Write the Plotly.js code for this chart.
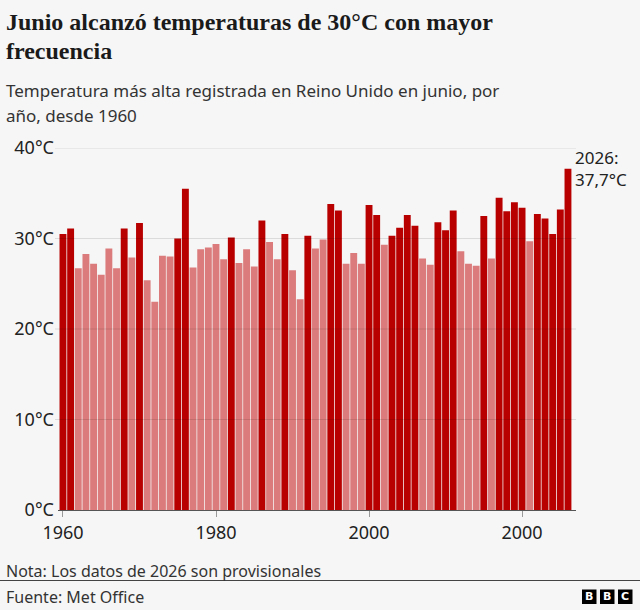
<!DOCTYPE html>
<html>
<head>
<meta charset="utf-8">
<script src="https://cdn.plot.ly/plotly-3.0.1.min.js"></script>
<style>
  html, body { margin: 0; padding: 0; background: #f6f6f6; }
  #chart { width: 640px; height: 610px; }
</style>
</head>
<body>
<div id="chart"></div>
<script>
// ---- Data ----
const years = [
  1960, 1961, 1962, 1963, 1964, 1965, 1966, 1967, 1968, 1969,
  1970, 1971, 1972, 1973, 1974, 1975, 1976, 1977, 1978, 1979,
  1980, 1981, 1982, 1983, 1984, 1985, 1986, 1987, 1988, 1989,
  1990, 1991, 1992, 1993, 1994, 1995, 1996, 1997, 1998, 1999,
  2000, 2001, 2002, 2003, 2004, 2005, 2006, 2007, 2008, 2009,
  2010, 2011, 2012, 2013, 2014, 2015, 2016, 2017, 2018, 2019,
  2020, 2021, 2022, 2023, 2024, 2025, 2026
];
const maxTemp = [
  30.5, 31.1, 26.7, 28.3, 27.2, 26.0, 28.9, 26.7, 31.1, 27.9,
  31.7, 25.4, 23.0, 28.1, 28.0, 30.0, 35.5, 26.8, 28.8, 29.0,
  29.4, 27.7, 30.1, 27.3, 28.8, 26.9, 32.0, 29.6, 27.7, 30.5,
  26.5, 23.3, 30.3, 28.9, 29.9, 33.8, 33.1, 27.2, 28.4, 27.2,
  33.7, 32.6, 29.3, 30.3, 31.2, 32.6, 31.4, 27.8, 27.1, 31.8,
  30.9, 33.1, 28.6, 27.2, 27.0, 32.5, 27.8, 34.5, 33.0, 34.0,
  33.4, 29.7, 32.7, 32.2, 30.5, 33.2, 37.7
];
const threshold = 30;
const xTickVals = [1960, 1980, 2000, 2020];
const xTickText = ["1960", "1980", "2000", "2000"];
const yTickVals = [0, 10, 20, 30, 40];
const yTickText = ["0°C", "10°C", "20°C", "30°C", "40°C"];

const titleLines = ["Junio alcanzó temperaturas de 30°C con mayor", "frecuencia"];
const subtitleLines = ["Temperatura más alta registrada en Reino Unido en junio, por", "año, desde 1960"];
const noteText = "Nota: Los datos de 2026 son provisionales";
const sourceText = "Fuente: Met Office";

// ---- Styles / geometry ----
const W = 640, H = 610;
const M = {l: 58, r: 64, t: 148, b: 100};
const pw = W - M.l - M.r, ph = H - M.t - M.b;
const px = x => (x - M.l) / pw;
const py = y => (H - M.b - y) / ph;
const DARK = "#b80000", LIGHT = "#db7b7b";
const SANS = "Noto Sans, Roboto, sans-serif";
const SERIF = "Liberation Serif, DejaVu Serif, serif";
const TXT = "#222222";

const colors = maxTemp.map(v => v >= threshold ? DARK : LIGHT);

const trace = {
  type: "bar",
  x: years,
  y: maxTemp,
  marker: {color: colors, line: {width: 0}},
  hoverinfo: "x+y"
};

const ann = [];
function textAt(text, x, yTop, size, family, color, weight) {
  ann.push({
    text: text, xref: "paper", yref: "paper",
    x: px(x), y: py(yTop), xanchor: "left", yanchor: "top",
    showarrow: false, align: "left",
    font: {size: size, family: family, color: color || TXT, weight: weight || 400}
  });
}
textAt(titleLines[0], 4, 7, 24, SERIF, "#1a1a1a", 700);
textAt(titleLines[1], 4, 36, 24, SERIF, "#1a1a1a", 700);
textAt(subtitleLines[0], 4, 77, 17, SANS, "#333");
textAt(subtitleLines[1], 4, 102, 17, SANS, "#333");
textAt(noteText, 4, 558, 16, SANS, "#333");
textAt(sourceText, 4, 584, 16, SANS, "#333");

// last-value label
const lastYear = years[years.length - 1];
const lastVal = maxTemp[maxTemp.length - 1];
ann.push({
  text: lastYear + ":<br>" + lastVal.toFixed(1).replace(".", ",") + "°C",
  xref: "x", yref: "y", x: lastYear + 0.5, y: lastVal,
  xanchor: "left", yanchor: "bottom", xshift: 1, yshift: -24,
  showarrow: false, align: "left",
  font: {size: 17, family: SANS, color: TXT}
});

const shapes = [];
// gridlines above bars
yTickVals.filter(v => v > 0).forEach(v => {
  shapes.push({
    type: "line", xref: "paper", yref: "y", layer: "above",
    x0: px(55), x1: px(576), y0: v, y1: v,
    line: {color: "rgba(0,0,0,0.11)", width: 1}
  });
});
// separator
shapes.push({
  type: "line", xref: "paper", yref: "paper",
  x0: px(0), x1: px(640), y0: py(580.5), y1: py(580.5),
  line: {color: "#444", width: 1}
});
// BBC blocks
const bbc = ["B", "B", "C"];
bbc.forEach((ch, i) => {
  const x0 = 582 + i * 18;
  shapes.push({
    type: "rect", xref: "paper", yref: "paper",
    x0: px(x0), x1: px(x0 + 14.5), y0: py(589.5), y1: py(604),
    fillcolor: "#000", line: {width: 0}
  });
  ann.push({
    text: ch, xref: "paper", yref: "paper",
    x: px(x0 + 7.25), y: py(596.75), xanchor: "center", yanchor: "middle",
    showarrow: false, font: {size: 11, family: "DejaVu Sans", color: "#fff", weight: 700}
  });
});

const layout = {
  width: W, height: H,
  margin: M,
  paper_bgcolor: "#f6f6f6",
  plot_bgcolor: "#f6f6f6",
  showlegend: false,
  bargap: 0.1,
  xaxis: {
    range: [1959.35, 2027.05],
    tickvals: xTickVals, ticktext: xTickText,
    ticks: "outside", ticklen: 6, tickcolor: "#999", tickwidth: 1,
    showline: true, linecolor: "#555", linewidth: 1,
    showgrid: false, zeroline: false, fixedrange: true,
    tickfont: {size: 18, family: SANS, color: TXT}
  },
  yaxis: {
    range: [0, 40],
    tickvals: yTickVals, ticktext: yTickText,
    showgrid: false, zeroline: false, showline: false,
    ticks: "", ticklabelstandoff: 3, fixedrange: true,
    tickfont: {size: 18, family: SANS, color: TXT}
  },
  annotations: ann,
  shapes: shapes
};

Plotly.newPlot("chart", [trace], layout, {displayModeBar: false, staticPlot: true});
</script>
</body>
</html>
